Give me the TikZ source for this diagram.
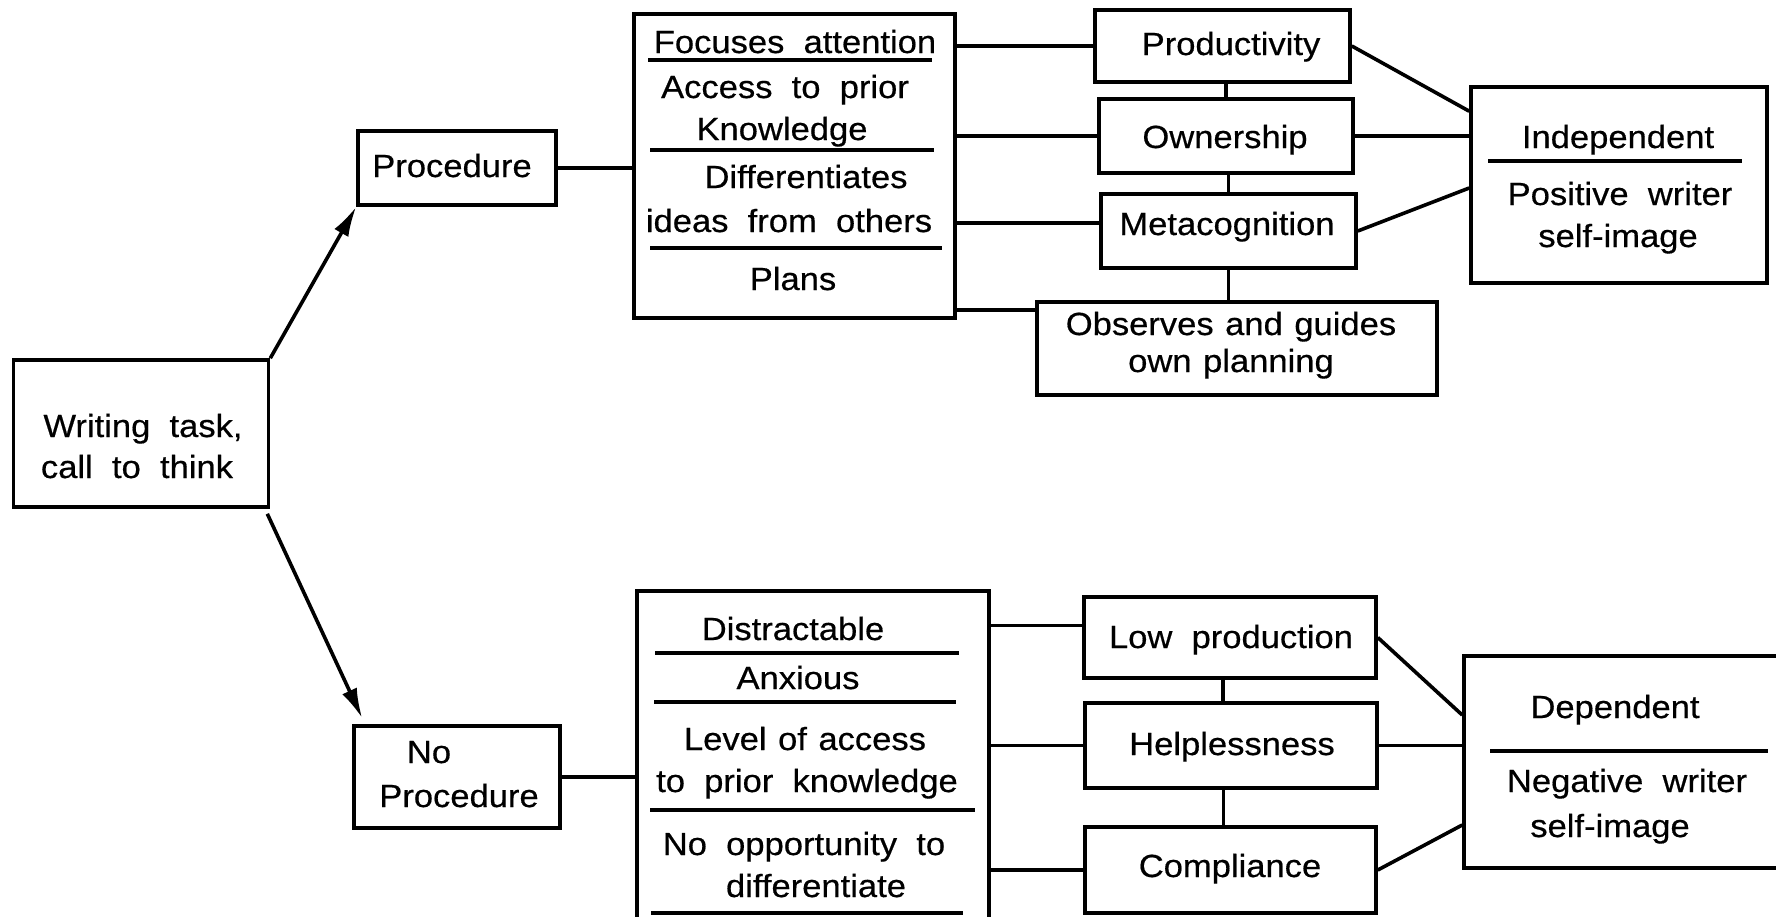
\documentclass[tikz,border=0pt]{standalone}
\usepackage{fontspec}
\setmainfont[FakeStretch=1.08,WordSpace=2,FakeBold=0.5]{Liberation Sans}
\newfontfamily\tightfont[FakeStretch=1.08,WordSpace=1.2,FakeBold=0.5]{Liberation Sans}
\usetikzlibrary{arrows.meta}
\begin{document}
\begin{tikzpicture}[x=1pt,y=-1pt,
  box/.style={draw,line width=3.6pt,rectangle,inner sep=0pt},
  lbl/.style={anchor=base,inner sep=0pt,font=\fontsize{32}{41}\selectfont},
  link/.style={line width=3.6pt},
  arr/.style={line width=3.6pt,-{Latex[length=30pt,width=16pt]}},
  sep/.style={line width=3.6pt}]
\clip (0,0) rectangle (1776,916);
\fill[white] (0,0) rectangle (1776,916);

% ---- boxes ----
\node[box,minimum width=255pt,minimum height=147pt] (task) at (141,433.5) {};
\node[box,minimum width=198pt,minimum height=74pt] (proc) at (457,168) {};
\node[box,minimum width=321pt,minimum height=304pt] (list1) at (794.5,166) {};
\node[box,minimum width=255pt,minimum height=72pt] (prod) at (1222.5,46) {};
\node[box,minimum width=254pt,minimum height=74pt] (own) at (1226,136) {};
\node[box,minimum width=255pt,minimum height=74pt] (meta) at (1228.5,231) {};
\node[box,minimum width=400pt,minimum height=93pt] (obs) at (1237,348.5) {};
\node[box,minimum width=296pt,minimum height=196pt] (ind) at (1619,185) {};
\node[box,minimum width=206pt,minimum height=102pt] (noproc) at (457,777) {};
\node[box,minimum width=352pt,minimum height=369pt] (list2) at (813,775.5) {};
\node[box,minimum width=292pt,minimum height=81pt] (low) at (1230,637.5) {};
\node[box,minimum width=292pt,minimum height=85pt] (help) at (1231,745.5) {};
\node[box,minimum width=291pt,minimum height=86pt] (comp) at (1230.5,870) {};
\node[box,minimum width=346pt,minimum height=212pt] (dep) at (1637,762) {};

% ---- texts ----
\node[lbl] (t1) at (143,437) {Writing task,};
\node[lbl] (t2) at (137,478) {call to think};
\node[lbl] (tproc) at (452,177) {Procedure};
\node[lbl] (a1) at (795,53) {Focuses attention};
\node[lbl] (a2) at (785,98) {Access to prior};
\node[lbl] (a3) at (782,140) {Knowledge};
\node[lbl] (a4) at (806,188) {Differentiates};
\node[lbl] (a5) at (789,232) {ideas from others};
\node[lbl] (a6) at (793,290) {Plans};
\node[lbl] (tprod) at (1231,55) {Productivity};
\node[lbl] (town) at (1225,148) {Ownership};
\node[lbl] (tmeta) at (1227,235) {Metacognition};
\node[lbl] (tobs1) at (1231,335) {\tightfont Observes and guides};
\node[lbl] (tobs2) at (1231,372) {\tightfont own planning};
\node[lbl] (tind1) at (1618,148) {Independent};
\node[lbl] (tind2) at (1620,205) {Positive writer};
\node[lbl] (tind3) at (1618,247) {self-image};
\node[lbl] (tno1) at (429,763) {No};
\node[lbl] (tno2) at (459,807) {Procedure};
\node[lbl] (b1) at (793,640) {Distractable};
\node[lbl] (b2) at (798,689) {Anxious};
\node[lbl] (b3) at (805,750) {\tightfont Level of access};
\node[lbl] (b4) at (807,792) {to prior knowledge};
\node[lbl] (b5) at (804,855) {No opportunity to};
\node[lbl] (b6) at (816,897) {differentiate};
\node[lbl] (tlow) at (1231,648) {Low production};
\node[lbl] (thelp) at (1232,755) {Helplessness};
\node[lbl] (tcomp) at (1230,877) {Compliance};
\node[lbl] (tdep1) at (1615,718) {Dependent};
\node[lbl] (tdep2) at (1627,792) {Negative writer};
\node[lbl] (tdep3) at (1610,837) {self-image};

% ---- separators inside the list boxes ----
\draw[sep] (648,60) -- (932,60);
\draw[sep] (650,150) -- (934,150);
\draw[sep] (650,248) -- (942,248);
\draw[sep] (1488,161) -- (1742,161);
\draw[sep] (655,653) -- (959,653);
\draw[sep] (654,702) -- (956,702);
\draw[sep] (650,810) -- (975,810);
\draw[sep] (651,913) -- (963,913);
\draw[sep] (1490,751) -- (1768,751);

% ---- arrows from the task ----
\coordinate (a2s) at ([shift={(-3pt,-5pt)}]task.south east);
\coordinate (a2e) at ([shift={(10pt,6pt)}]noproc.north west);
\draw[arr] (task.north east) -- (proc.south west);
\draw[arr] (a2s) -- (a2e);

% ---- upper branch ----
\draw[link] (proc.east) -- (proc.east -| list1.west);
\draw[link] (prod.west -| list1.east) -- (prod.west);
\draw[link] (own.west -| list1.east) -- (own.west);
\coordinate (mj) at ([yshift=8pt]meta.west);
\draw[link] (mj -| list1.east) -- (mj);
\coordinate (oj) at ([yshift=-10pt]obs.north west);
\draw[link] (oj -| list1.east) -- (oj);
\draw[link] (own.north) -- (own.north |- prod.south);
\draw[link] (meta.north) -- (meta.north |- own.south);
\draw[link] (meta.south) -- (meta.south |- obs.north);
\draw[link] (prod.east) -- ([yshift=-26pt]ind.north west);
\draw[link] (own.east) -- (own.east -| ind.west);
\draw[link] (meta.east) -- ([yshift=-3pt]ind.west);

% ---- lower branch ----
\draw[link] (noproc.east) -- (noproc.east -| list2.west);
\coordinate (lj) at ([yshift=12pt]low.west);
\draw[link] (lj -| list2.east) -- (lj);
\draw[link] (help.west -| list2.east) -- (help.west);
\draw[link] (comp.west -| list2.east) -- (comp.west);
\coordinate (hv) at ([xshift=-8pt]help.north);
\draw[link] (hv) -- (hv |- low.south);
\coordinate (cv) at ([xshift=-7pt]comp.north);
\draw[link] (cv) -- (cv |- help.south);
\draw[link] (low.east) -- ([yshift=47pt]dep.west);
\draw[link] (help.east) -- (help.east -| dep.west);
\draw[link] (comp.east) -- ([yshift=-63pt]dep.west);
\end{tikzpicture}
\end{document}
